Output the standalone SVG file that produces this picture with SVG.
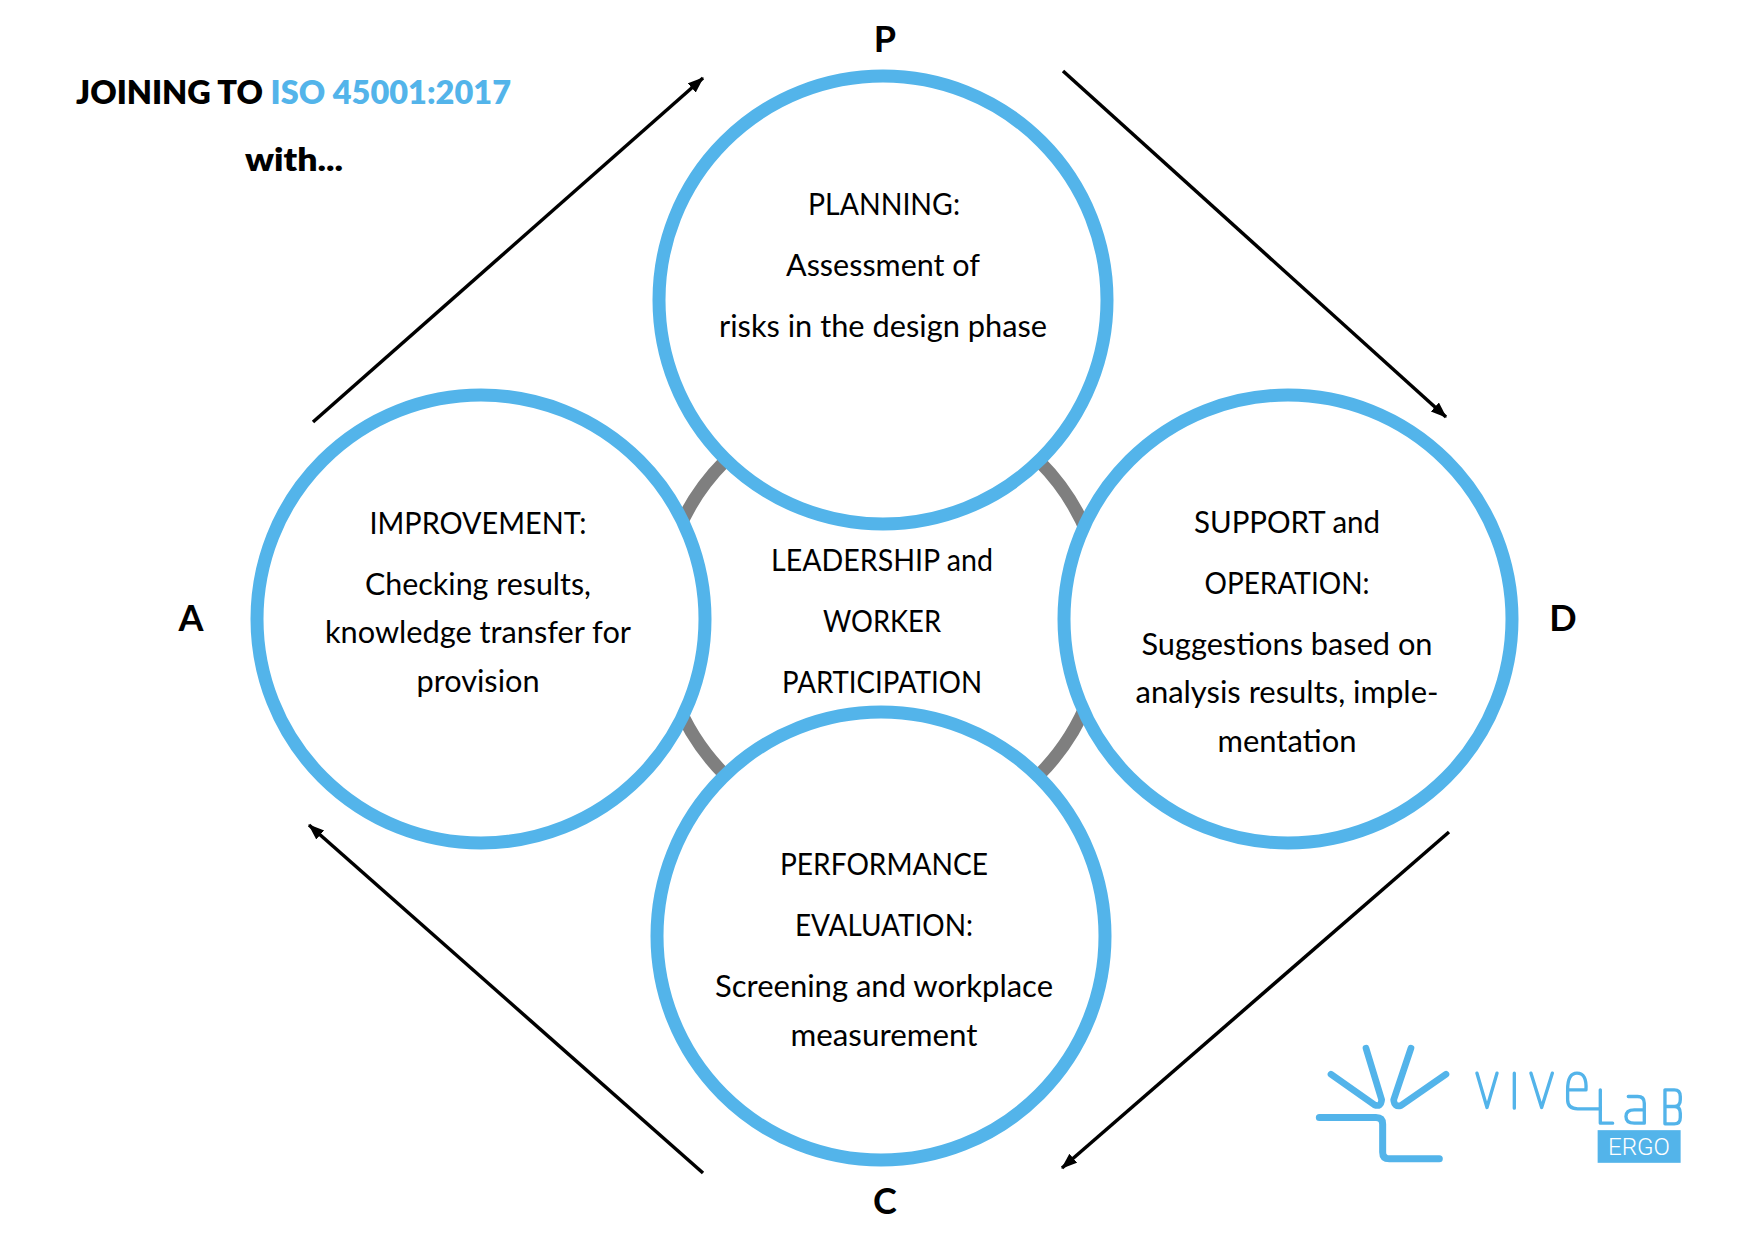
<svg xmlns="http://www.w3.org/2000/svg" width="1754" height="1240" viewBox="0 0 1754 1240">
<defs>
<marker id="ah" markerUnits="userSpaceOnUse" markerWidth="18" markerHeight="14" refX="15" refY="6" orient="auto"><path d="M0,0 L16,6 L0,12 Z" fill="#000"/></marker>
</defs>
<style>
text{font-family:Lato,"Liberation Sans",sans-serif;fill:#000}
.c{fill:#fff;stroke:#53B4EA;stroke-width:13}
.t{font-size:30px;text-anchor:middle}
.b{font-weight:700;font-size:36px;text-anchor:middle}
.h{font-weight:800;font-size:32px}
.a{stroke:#000;stroke-width:3.5;fill:none;marker-end:url(#ah)}
.l{fill:none;stroke:#53B4EA;stroke-linecap:round;stroke-linejoin:round}
</style>
<rect width="1754" height="1240" fill="#fff"/>
<g id="title">
<text class="h" x="76" y="104" textLength="435" lengthAdjust="spacingAndGlyphs">JOINING TO <tspan style="fill:#53B4EA">ISO 45001:2017</tspan></text>
<text class="h" x="245" y="171" textLength="98" lengthAdjust="spacingAndGlyphs">with...</text>
</g>
<g id="connectors">
<line class="a" x1="313" y1="422" x2="703" y2="78"/>
<line class="a" x1="1063" y1="71" x2="1446" y2="417"/>
<line class="a" x1="1449" y1="832" x2="1062" y2="1168"/>
<line class="a" x1="703" y1="1173" x2="309" y2="825"/>
</g>
<g id="center">
<circle cx="882" cy="618" r="222" fill="#fff" stroke="#7F7F7F" stroke-width="13"/>
<text class="t" x="882" y="571" textLength="222" lengthAdjust="spacingAndGlyphs">LEADERSHIP and</text>
<text class="t" x="882" y="632" textLength="118" lengthAdjust="spacingAndGlyphs">WORKER</text>
<text class="t" x="882" y="693" textLength="200" lengthAdjust="spacingAndGlyphs">PARTICIPATION</text>
</g>
<g id="plan">
<circle class="c" cx="883" cy="300" r="224"/>
<text class="t" x="884" y="215" textLength="152" lengthAdjust="spacingAndGlyphs">PLANNING:</text>
<text class="t" x="883" y="276" textLength="194" lengthAdjust="spacingAndGlyphs">Assessment of</text>
<text class="t" x="883" y="337" textLength="328" lengthAdjust="spacingAndGlyphs">risks in the design phase</text>
</g>
<g id="improve">
<circle class="c" cx="481" cy="619" r="224"/>
<text class="t" x="478" y="534" textLength="217" lengthAdjust="spacingAndGlyphs">IMPROVEMENT:</text>
<text class="t" x="478" y="595" textLength="226" lengthAdjust="spacingAndGlyphs">Checking results,</text>
<text class="t" x="478" y="643" textLength="306" lengthAdjust="spacingAndGlyphs">knowledge transfer for</text>
<text class="t" x="478" y="692" textLength="123" lengthAdjust="spacingAndGlyphs">provision</text>
</g>
<g id="support">
<circle class="c" cx="1288" cy="619" r="224"/>
<text class="t" x="1287" y="533" textLength="186" lengthAdjust="spacingAndGlyphs">SUPPORT and</text>
<text class="t" x="1287" y="594" textLength="165" lengthAdjust="spacingAndGlyphs">OPERATION:</text>
<text class="t" x="1287" y="655" textLength="291" lengthAdjust="spacingAndGlyphs">Suggestions based on</text>
<text class="t" x="1287" y="703" textLength="303" lengthAdjust="spacingAndGlyphs">analysis results, imple-</text>
<text class="t" x="1287" y="752" textLength="139" lengthAdjust="spacingAndGlyphs">mentation</text>
</g>
<g id="perf">
<circle class="c" cx="881" cy="936" r="224"/>
<text class="t" x="884" y="875" textLength="208" lengthAdjust="spacingAndGlyphs">PERFORMANCE</text>
<text class="t" x="884" y="936" textLength="178" lengthAdjust="spacingAndGlyphs">EVALUATION:</text>
<text class="t" x="884" y="997" textLength="338" lengthAdjust="spacingAndGlyphs">Screening and workplace</text>
<text class="t" x="884" y="1046" textLength="187" lengthAdjust="spacingAndGlyphs">measurement</text>
</g>
<g id="p"><text class="b" x="885" y="52">P</text></g>
<g id="d"><text class="b" x="1563" y="631">D</text></g>
<g id="c"><text class="b" x="885" y="1214">C</text></g>
<g id="a"><text class="b" x="191" y="631">A</text></g>
<g id="logo" transform="translate(1,1.5)">
<g transform="translate(1290,1020) scale(.3333)">
<path class="l" stroke-width="20" d="M120,158 L250,250 Q270,258 272,235 L225,80"/>
<path class="l" stroke-width="20" d="M360,80 L308,235 Q310,258 330,252 L465,158"/>
<path class="l" stroke-width="21" d="M85,288 H255 Q275,288 275,308 V392 Q275,412 295,412 H445"/>
<path class="l" stroke-width="10" d="M558,155 L588,258 L618,155 M670,155 V260 M720,155 L752,258 L784,155"/>
<path class="l" stroke-width="10" d="M832,205 H885 Q888,155 858,155 Q830,155 830,205 V235 Q830,262 860,262 H928 V205 M928,262 V305 H965"/>
<path class="l" stroke-width="10" d="M1012,225 H1040 Q1060,225 1060,245 V305 H1030 Q1005,305 1005,285 Q1005,265 1030,265 H1060"/>
<path class="l" stroke-width="10" d="M1122,205 H1150 Q1168,205 1168,225 V235 Q1168,255 1150,255 H1122 M1150,255 Q1168,255 1168,275 V288 Q1168,307 1150,307 H1122 V205"/>
<rect x="920" y="326" width="249" height="98" fill="#53B4EA"/>
</g>
<text x="1607" y="1153" font-size="23" style="fill:#fff;font-family:Roboto,Lato,sans-serif;font-weight:300" textLength="62" lengthAdjust="spacingAndGlyphs">ERGO</text>
</g>
</svg>
